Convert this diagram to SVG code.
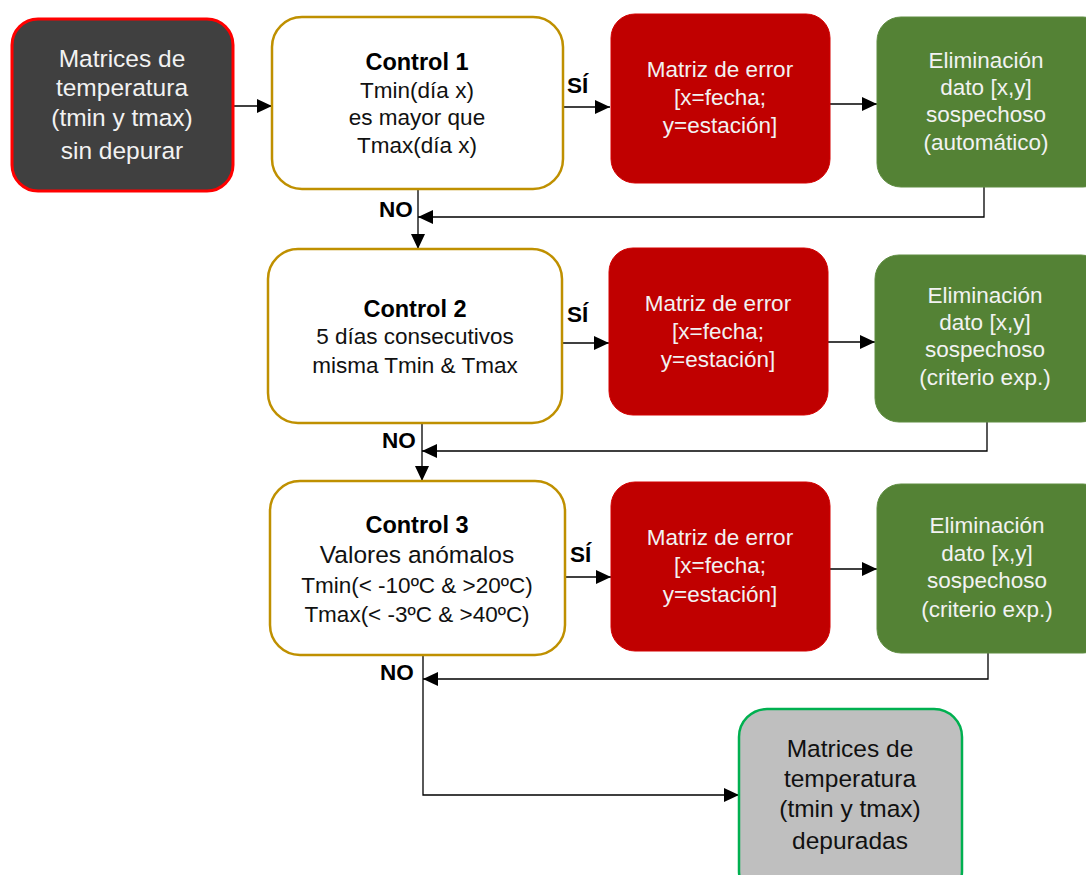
<svg xmlns="http://www.w3.org/2000/svg" width="1086" height="875" viewBox="0 0 1086 875">
<defs>
<marker id="ah" markerUnits="userSpaceOnUse" markerWidth="16" markerHeight="14" refX="15" refY="7" orient="auto">
<path d="M0,0 L15,7 L0,14 Z" fill="#000"/>
</marker>
<style>
text{font-family:"Liberation Sans",Arial,sans-serif;font-size:22.5px;text-anchor:middle}
.t{font-weight:bold;font-size:23.5px;fill:#000}
.lbl{font-weight:bold;font-size:22.5px;fill:#000;text-anchor:start}
.big{font-size:24.5px}
.dark{fill:#404040;stroke:#FF0000;stroke-width:3}
.ctrl{fill:#fff;stroke:#BF9000;stroke-width:2.5}
.red{fill:#C00000;stroke:#D40000;stroke-width:1}
.green{fill:#548235;stroke:#5E8C40;stroke-width:1}
.fin{fill:#BFBFBF;stroke:#00B050;stroke-width:2.5}
.w{fill:#F2F2F2}
.k{fill:#111}
.c{fill:none;stroke:#000;stroke-width:1.3}
</style>
</defs>
<rect width="1086" height="875" fill="#fff"/>

<g id="connectors">
<line class="c" x1="224" y1="106" x2="272" y2="106" marker-end="url(#ah)"/>
<line class="c" x1="563" y1="107" x2="610" y2="107" marker-end="url(#ah)"/>
<line class="c" x1="830" y1="104" x2="877" y2="104" marker-end="url(#ah)"/>
<polyline class="c" points="984,187 984,217 418,217" marker-end="url(#ah)"/>
<line class="c" x1="418" y1="189" x2="418" y2="249" marker-end="url(#ah)"/>

<line class="c" x1="562" y1="343" x2="609" y2="343" marker-end="url(#ah)"/>
<line class="c" x1="828" y1="342" x2="875" y2="342" marker-end="url(#ah)"/>
<polyline class="c" points="987,422 987,451 422,451" marker-end="url(#ah)"/>
<line class="c" x1="422" y1="423" x2="422" y2="481" marker-end="url(#ah)"/>

<line class="c" x1="565" y1="577" x2="611" y2="577" marker-end="url(#ah)"/>
<line class="c" x1="829" y1="569" x2="877" y2="569" marker-end="url(#ah)"/>
<polyline class="c" points="988,653 988,679 423,679" marker-end="url(#ah)"/>
<polyline class="c" points="423,655 423,795 739,795" marker-end="url(#ah)"/>

<text class="lbl" x="567" y="93">SÍ</text>
<text class="lbl" x="379" y="217">NO</text>
<text class="lbl" x="567" y="322">SÍ</text>
<text class="lbl" x="382" y="448">NO</text>
<text class="lbl" x="570" y="562">SÍ</text>
<text class="lbl" x="380" y="680">NO</text>
</g>

<g id="input">
<rect class="dark" x="12" y="19" width="221" height="172" rx="26"/>
<text class="w big" x="122" y="67">Matrices de</text>
<text class="w big" x="122" y="96">temperatura</text>
<text class="w big" x="122" y="126">(tmin y tmax)</text>
<text class="w big" x="122" y="159">sin depurar</text>
</g>

<g id="control1">
<rect class="ctrl" x="272" y="17" width="291" height="172" rx="30"/>
<text class="t" x="417" y="70">Control 1</text>
<text class="k" x="417" y="98">Tmin(día x)</text>
<text class="k" x="417" y="125">es mayor que</text>
<text class="k" x="417" y="153">Tmax(día x)</text>
</g>

<g id="error1">
<rect class="red" x="611" y="14" width="219" height="169" rx="24"/>
<text class="w" x="720" y="77">Matriz de error</text>
<text class="w" x="720" y="105">[x=fecha;</text>
<text class="w" x="720" y="133">y=estación]</text>
</g>

<g id="elim1">
<rect class="green" x="877" y="17" width="230" height="170" rx="24"/>
<text class="w" x="986" y="68">Eliminación</text>
<text class="w" x="986" y="95">dato [x,y]</text>
<text class="w" x="986" y="122">sospechoso</text>
<text class="w" x="986" y="150">(automático)</text>
</g>

<g id="control2">
<rect class="ctrl" x="268" y="249" width="294" height="174" rx="30"/>
<text class="t" x="415" y="317">Control 2</text>
<text class="k" x="415" y="344">5 días consecutivos</text>
<text class="k" x="415" y="373">misma Tmin &amp; Tmax</text>
</g>

<g id="error2">
<rect class="red" x="609" y="248" width="219" height="167" rx="24"/>
<text class="w" x="718" y="311">Matriz de error</text>
<text class="w" x="718" y="339">[x=fecha;</text>
<text class="w" x="718" y="367">y=estación]</text>
</g>

<g id="elim2">
<rect class="green" x="875" y="255" width="230" height="167" rx="24"/>
<text class="w" x="985" y="303">Eliminación</text>
<text class="w" x="985" y="330">dato [x,y]</text>
<text class="w" x="985" y="357">sospechoso</text>
<text class="w" x="985" y="385">(criterio exp.)</text>
</g>

<g id="control3">
<rect class="ctrl" x="270" y="481" width="295" height="174" rx="30"/>
<text class="t" x="417" y="533">Control 3</text>
<text class="k big" x="417" y="563">Valores anómalos</text>
<text class="k" x="417" y="593">Tmin(&lt; -10ºC &amp; &gt;20ºC)</text>
<text class="k" x="417" y="622">Tmax(&lt; -3ºC &amp; &gt;40ºC)</text>
</g>

<g id="error3">
<rect class="red" x="611" y="482" width="219" height="169" rx="24"/>
<text class="w" x="720" y="545">Matriz de error</text>
<text class="w" x="720" y="573">[x=fecha;</text>
<text class="w" x="720" y="602">y=estación]</text>
</g>

<g id="elim3">
<rect class="green" x="877" y="484" width="230" height="169" rx="24"/>
<text class="w" x="987" y="533">Eliminación</text>
<text class="w" x="987" y="561">dato [x,y]</text>
<text class="w" x="987" y="588">sospechoso</text>
<text class="w" x="987" y="617">(criterio exp.)</text>
</g>

<g id="output">
<rect class="fin" x="739" y="709" width="223" height="190" rx="28"/>
<text class="k big" x="850" y="757">Matrices de</text>
<text class="k big" x="850" y="787">temperatura</text>
<text class="k big" x="850" y="817">(tmin y tmax)</text>
<text class="k big" x="850" y="849">depuradas</text>
</g>
</svg>
